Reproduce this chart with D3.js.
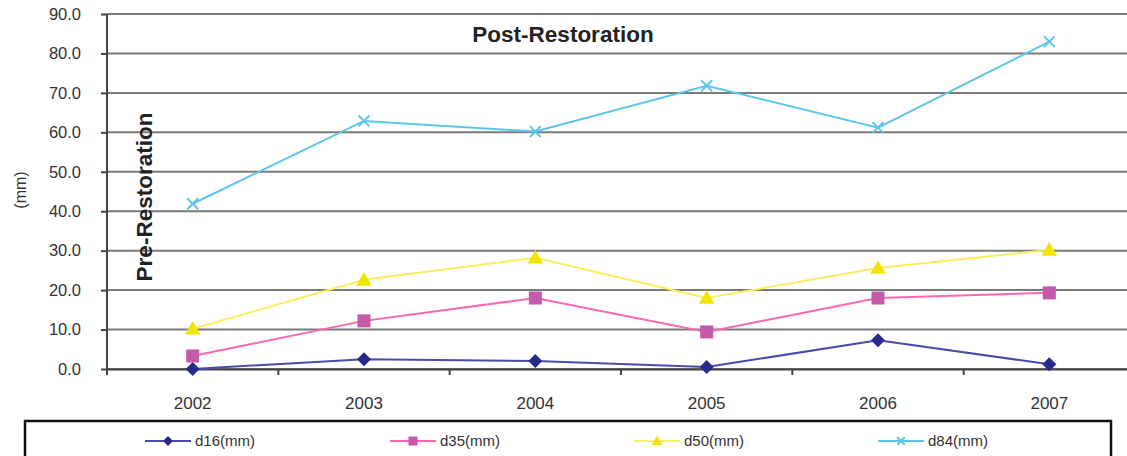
<!DOCTYPE html>
<html><head><meta charset="utf-8">
<script src="https://cdn.jsdelivr.net/npm/d3@7"></script>
<style>body{margin:0;background:#fff}svg{display:block}</style>
</head><body>
<svg id="c" width="1127" height="456"></svg>
<script>
const years = ["2002","2003","2004","2005","2006","2007"];
const d16 = [0.0, 2.5, 2.0, 0.5, 7.3, 1.2];
const d35 = [3.3, 12.2, 18.0, 9.4, 18.0, 19.3];
const d50 = [10.2, 22.6, 28.2, 18.0, 25.6, 30.2];
const d84 = [41.9, 62.9, 60.2, 71.8, 61.2, 83.0];
const seriesNames = ["d16(mm)", "d35(mm)", "d50(mm)", "d84(mm)"];
const yTicks = [0,10,20,30,40,50,60,70,80,90];

(function(){
const series = [
  {name: seriesNames[0], values: d16, line: "#4a4aa8", fill: "#262b8a", shape: "diamond"},
  {name: seriesNames[1], values: d35, line: "#ff66b0", fill: "#c45aa8", shape: "square"},
  {name: seriesNames[2], values: d50, line: "#f8f060", fill: "#f2e600", shape: "triangle"},
  {name: seriesNames[3], values: d84, line: "#5cc6ea", fill: "#5cc6ea", shape: "x"}
];

const svg = d3.select("#c");
const font = "'Liberation Sans Narrow', 'Arial Narrow', 'Liberation Sans', Arial, sans-serif";
const pL = 107, pR = 1135, pT = 14, pB = 369;
const x = d3.scaleBand().domain(years).range([pL, pR]);
const y = d3.scaleLinear().domain([0, 90]).range([pB, pT]);

svg.append("g").selectAll("line").data(yTicks).join("line")
  .attr("x1", pL).attr("x2", 1127)
  .attr("y1", d => y(d)).attr("y2", d => y(d))
  .attr("stroke", "#7a7a7a").attr("stroke-width", 2);

const ya = svg.append("g").attr("transform", `translate(${pL},0)`)
  .call(d3.axisLeft(y).tickValues(yTicks).tickFormat(d3.format(".1f")).tickSize(6).tickPadding(20));
ya.select(".domain").attr("stroke", "#444").attr("stroke-width", 2).attr("d", `M0,${pT}V${pB+6}`);
ya.selectAll(".tick line").attr("stroke", "#444").attr("stroke-width", 2);
ya.selectAll("text").attr("font-family", font).attr("font-size", 16.5).attr("fill", "#333");

const xa = svg.append("g").attr("transform", `translate(0,${pB})`)
  .call(d3.axisBottom(x).tickSize(0).tickPadding(28));
xa.select(".domain").attr("stroke", "#444").attr("stroke-width", 2);
xa.selectAll("text").attr("font-family", font).attr("font-size", 17).attr("fill", "#333");
svg.append("g").selectAll("line").data(years).join("line")
  .attr("x1", d => x(d)).attr("x2", d => x(d))
  .attr("y1", pB).attr("y2", pB + 6)
  .attr("stroke", "#444").attr("stroke-width", 2);

svg.append("text").attr("transform", "translate(26,190) rotate(-90)")
  .attr("text-anchor", "middle").attr("font-family", font).attr("font-size", 16).attr("fill", "#333").text("(mm)");

svg.append("text").attr("transform", "translate(152,197) rotate(-90)")
  .attr("text-anchor", "middle").attr("font-family", "'Liberation Sans', Arial, sans-serif")
  .attr("font-weight", "bold").attr("font-size", 22.5).attr("fill", "#222").text("Pre-Restoration");
svg.append("text").attr("x", 563).attr("y", 42)
  .attr("text-anchor", "middle").attr("font-family", "'Liberation Sans', Arial, sans-serif")
  .attr("font-weight", "bold").attr("font-size", 22.5).attr("fill", "#222").text("Post-Restoration");

function marker(g, shape, fill, size) {
  const h = size/2;
  if (shape === "diamond") g.append("path").attr("d", `M0,${-h}L${h},0L0,${h}L${-h},0Z`).attr("fill", fill);
  else if (shape === "square") g.append("rect").attr("x", -h).attr("y", -h).attr("width", size).attr("height", size).attr("fill", fill);
  else if (shape === "triangle") g.append("path").attr("d", `M0,${-size*0.6}L${size*0.6},${size*0.45}L${-size*0.6},${size*0.45}Z`).attr("fill", fill);
  else if (shape === "x") { const s = size*0.42; g.append("path").attr("d", `M${-s},${-s}L${s},${s}M${-s},${s}L${s},${-s}`).attr("stroke", fill).attr("stroke-width", 2).attr("fill","none"); }
}

const line = d3.line().x((d,i) => x(years[i]) + x.bandwidth()/2).y(d => y(d));
series.forEach(s => {
  svg.append("path").datum(s.values).attr("d", line).attr("fill", "none")
    .attr("stroke", s.line).attr("stroke-width", 2);
  s.values.forEach((v,i) => {
    const g = svg.append("g").attr("transform", `translate(${x(years[i]) + x.bandwidth()/2},${y(v)})`);
    marker(g, s.shape, s.fill, s.shape === "diamond" ? 14 : 13);
  });
});

svg.append("rect").attr("x", 25).attr("y", 421).attr("width", 1086).attr("height", 60)
  .attr("fill", "none").attr("stroke", "#111").attr("stroke-width", 2.5);
const legX = [145, 390, 634, 878];
series.forEach((s, i) => {
  const g = svg.append("g").attr("transform", `translate(${legX[i]},441)`);
  g.append("line").attr("x1", 0).attr("x2", 46).attr("stroke", s.line).attr("stroke-width", 2);
  const m = g.append("g").attr("transform", "translate(23,0)");
  marker(m, s.shape, s.fill, s.shape === "diamond" ? 10 : 9);
  g.append("text").attr("x", 50).attr("y", 5).attr("font-family", font).attr("font-size", 15).attr("fill", "#333").text(s.name);
});
})();
</script>
</body></html>
